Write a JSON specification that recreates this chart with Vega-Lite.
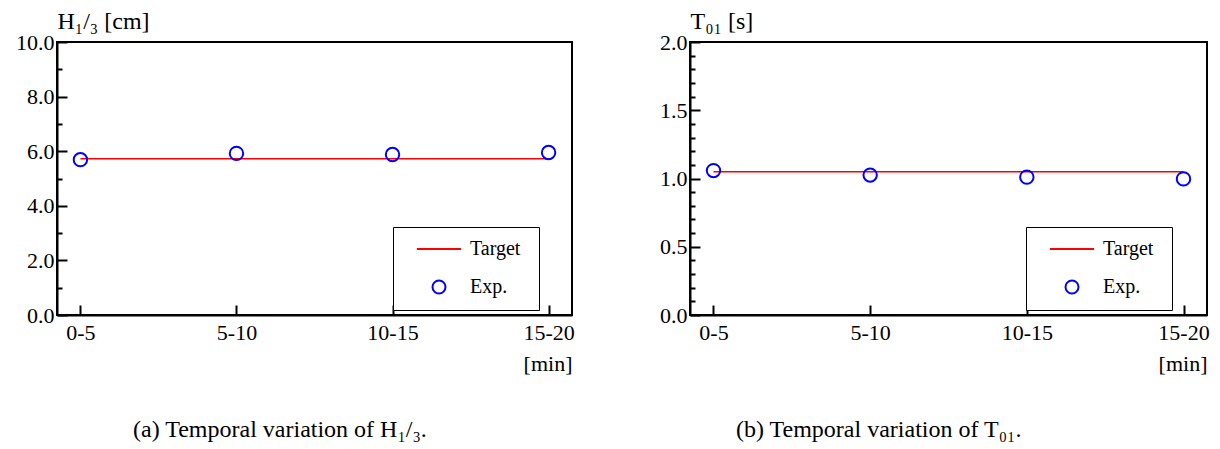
{
  "$schema": "https://vega.github.io/schema/vega-lite/v6.json",
  "autosize": {"type": "none"},
  "padding": {"left": 57, "top": 42, "right": 1163, "bottom": 407},
  "background": "white",
  "config": {
    "font": "Liberation Serif",
    "view": {"stroke": "black", "strokeWidth": 2},
    "axis": {"labelFont": "Liberation Serif", "labelFontSize": 22, "labelColor": "black", "titleFont": "Liberation Serif", "titleFontSize": 24, "titleFontWeight": "normal", "titleColor": "black", "grid": false, "labelOverlap": false, "labelFlush": false, "tickColor": "black", "tickWidth": 2, "domainColor": "black", "domainWidth": 2, "zindex": 1},
    "title": {"font": "Liberation Serif", "fontSize": 24, "fontWeight": "normal", "color": "black"}
  },
  "datasets": {
    "a": [
      {"period": "0-5", "series": "Target", "value": 5.72},
      {"period": "5-10", "series": "Target", "value": 5.72},
      {"period": "10-15", "series": "Target", "value": 5.72},
      {"period": "15-20", "series": "Target", "value": 5.72},
      {"period": "0-5", "series": "Exp.", "value": 5.69},
      {"period": "5-10", "series": "Exp.", "value": 5.92},
      {"period": "10-15", "series": "Exp.", "value": 5.88},
      {"period": "15-20", "series": "Exp.", "value": 5.95}
    ],
    "b": [
      {"period": "0-5", "series": "Target", "value": 1.05},
      {"period": "5-10", "series": "Target", "value": 1.05},
      {"period": "10-15", "series": "Target", "value": 1.05},
      {"period": "15-20", "series": "Target", "value": 1.05},
      {"period": "0-5", "series": "Exp.", "value": 1.058},
      {"period": "5-10", "series": "Exp.", "value": 1.025},
      {"period": "10-15", "series": "Exp.", "value": 1.01},
      {"period": "15-20", "series": "Exp.", "value": 0.997}
    ]
  },
  "spacing": 118,
  "bounds": "flush",
  "resolve": {"scale": {"y": "independent", "color": "independent", "shape": "independent"}, "legend": {"color": "independent", "shape": "independent"}},
  "hconcat": [
    {
      "width": 515,
      "height": 273,
      "data": {"name": "a"},
      "title": {"text": "(a) Temporal variation of H₁/₃.", "orient": "bottom", "anchor": "start", "frame": "group", "dx": 76, "offset": 44},
      "encoding": {
        "x": {"field": "period", "type": "ordinal", "sort": ["0-5", "5-10", "10-15", "15-20"], "scale": {"type": "point", "padding": 0.15},
          "axis": {"title": "[min]", "labelAngle": 0, "tickSize": -10, "labelPadding": 17, "titleFontSize": 22,
            "titleAlign": "right", "titleX": 515, "titleY": 55, "titleBaseline": "alphabetic"}},
        "y": {"field": "value", "type": "quantitative", "scale": {"domain": [0, 10], "nice": false},
          "axis": {"title": "H₁/₃ [cm]", "values": [0, 1, 2, 3, 4, 5, 6, 7, 8, 9, 10],
            "labelExpr": "datum.value % 2 === 0 ? format(datum.value, '.1f') : ''",
            "tickSize": {"condition": {"test": "datum.value % 2 === 0", "value": -10}, "value": -5},
            "labelPadding": 13, "titleAngle": 0, "titleAlign": "left", "titleBaseline": "alphabetic", "titleX": 0, "titleY": -14}}
      },
      "layer": [
        {
          "transform": [{"filter": "datum.series === 'Target'"}],
          "mark": {"type": "line", "color": "#ff0000", "strokeWidth": 1.5}
        },
        {
          "transform": [{"filter": "datum.series === 'Exp.'"}],
          "mark": {"type": "point", "filled": false, "strokeWidth": 2, "size": 180, "opacity": 1},
          "encoding": {
            "color": {"field": "series", "type": "nominal", "scale": {"domain": ["Target", "Exp."], "range": ["#ff0000", "#0000ff"]},
              "legend": {"title": " ", "titleOrient": "right", "titleFontSize": 2, "titlePadding": 7, "orient": "none", "legendX": 336, "legendY": 185, "padding": 12, "strokeColor": "black", "fillColor": "white", "symbolSize": 169, "symbolStrokeWidth": 2, "symbolOffset": 24, "labelOffset": 21, "labelFont": "Liberation Serif", "labelFontSize": 20, "labelColor": "black", "rowPadding": 17}},
            "shape": {"field": "series", "type": "nominal", "scale": {"domain": ["Target", "Exp."], "range": ["M-3.4,0H3.4", "circle"]},
              "legend": {"title": " ", "titleOrient": "right", "titleFontSize": 2, "titlePadding": 7, "orient": "none", "legendX": 336, "legendY": 185, "padding": 12, "strokeColor": "black", "fillColor": "white", "symbolSize": 169, "symbolStrokeWidth": 2, "symbolOffset": 24, "labelOffset": 21, "labelFont": "Liberation Serif", "labelFontSize": 20, "labelColor": "black", "rowPadding": 17}}
          }
        }
      ]
    },
    {
      "width": 517,
      "height": 273,
      "data": {"name": "b"},
      "title": {"text": "(b) Temporal variation of T₀₁.", "orient": "bottom", "anchor": "start", "frame": "group", "dx": 46, "offset": 44},
      "encoding": {
        "x": {"field": "period", "type": "ordinal", "sort": ["0-5", "5-10", "10-15", "15-20"], "scale": {"type": "point", "padding": 0.15},
          "axis": {"title": "[min]", "labelAngle": 0, "tickSize": -10, "labelPadding": 17, "titleFontSize": 22,
            "titleAlign": "right", "titleX": 517, "titleY": 55, "titleBaseline": "alphabetic"}},
        "y": {"field": "value", "type": "quantitative", "scale": {"domain": [0, 2], "nice": false},
          "axis": {"title": "T₀₁ [s]", "values": [0, 0.1, 0.2, 0.3, 0.4, 0.5, 0.6, 0.7, 0.8, 0.9, 1.0, 1.1, 1.2, 1.3, 1.4, 1.5, 1.6, 1.7, 1.8, 1.9, 2.0],
            "labelExpr": "abs(datum.value * 2 - round(datum.value * 2)) < 0.001 ? format(datum.value, '.1f') : ''",
            "tickSize": {"condition": {"test": "abs(datum.value * 2 - round(datum.value * 2)) < 0.001", "value": -10}, "value": -5},
            "labelPadding": 13, "titleAngle": 0, "titleAlign": "left", "titleBaseline": "alphabetic", "titleX": 0, "titleY": -14}}
      },
      "layer": [
        {
          "transform": [{"filter": "datum.series === 'Target'"}],
          "mark": {"type": "line", "color": "#ff0000", "strokeWidth": 1.5}
        },
        {
          "transform": [{"filter": "datum.series === 'Exp.'"}],
          "mark": {"type": "point", "filled": false, "strokeWidth": 2, "size": 180, "opacity": 1},
          "encoding": {
            "color": {"field": "series", "type": "nominal", "scale": {"domain": ["Target", "Exp."], "range": ["#ff0000", "#0000ff"]},
              "legend": {"title": " ", "titleOrient": "right", "titleFontSize": 2, "titlePadding": 7, "orient": "none", "legendX": 336, "legendY": 185, "padding": 12, "strokeColor": "black", "fillColor": "white", "symbolSize": 169, "symbolStrokeWidth": 2, "symbolOffset": 24, "labelOffset": 21, "labelFont": "Liberation Serif", "labelFontSize": 20, "labelColor": "black", "rowPadding": 17}},
            "shape": {"field": "series", "type": "nominal", "scale": {"domain": ["Target", "Exp."], "range": ["M-3.4,0H3.4", "circle"]},
              "legend": {"title": " ", "titleOrient": "right", "titleFontSize": 2, "titlePadding": 7, "orient": "none", "legendX": 336, "legendY": 185, "padding": 12, "strokeColor": "black", "fillColor": "white", "symbolSize": 169, "symbolStrokeWidth": 2, "symbolOffset": 24, "labelOffset": 21, "labelFont": "Liberation Serif", "labelFontSize": 20, "labelColor": "black", "rowPadding": 17}}
          }
        }
      ]
    }
  ]
}
